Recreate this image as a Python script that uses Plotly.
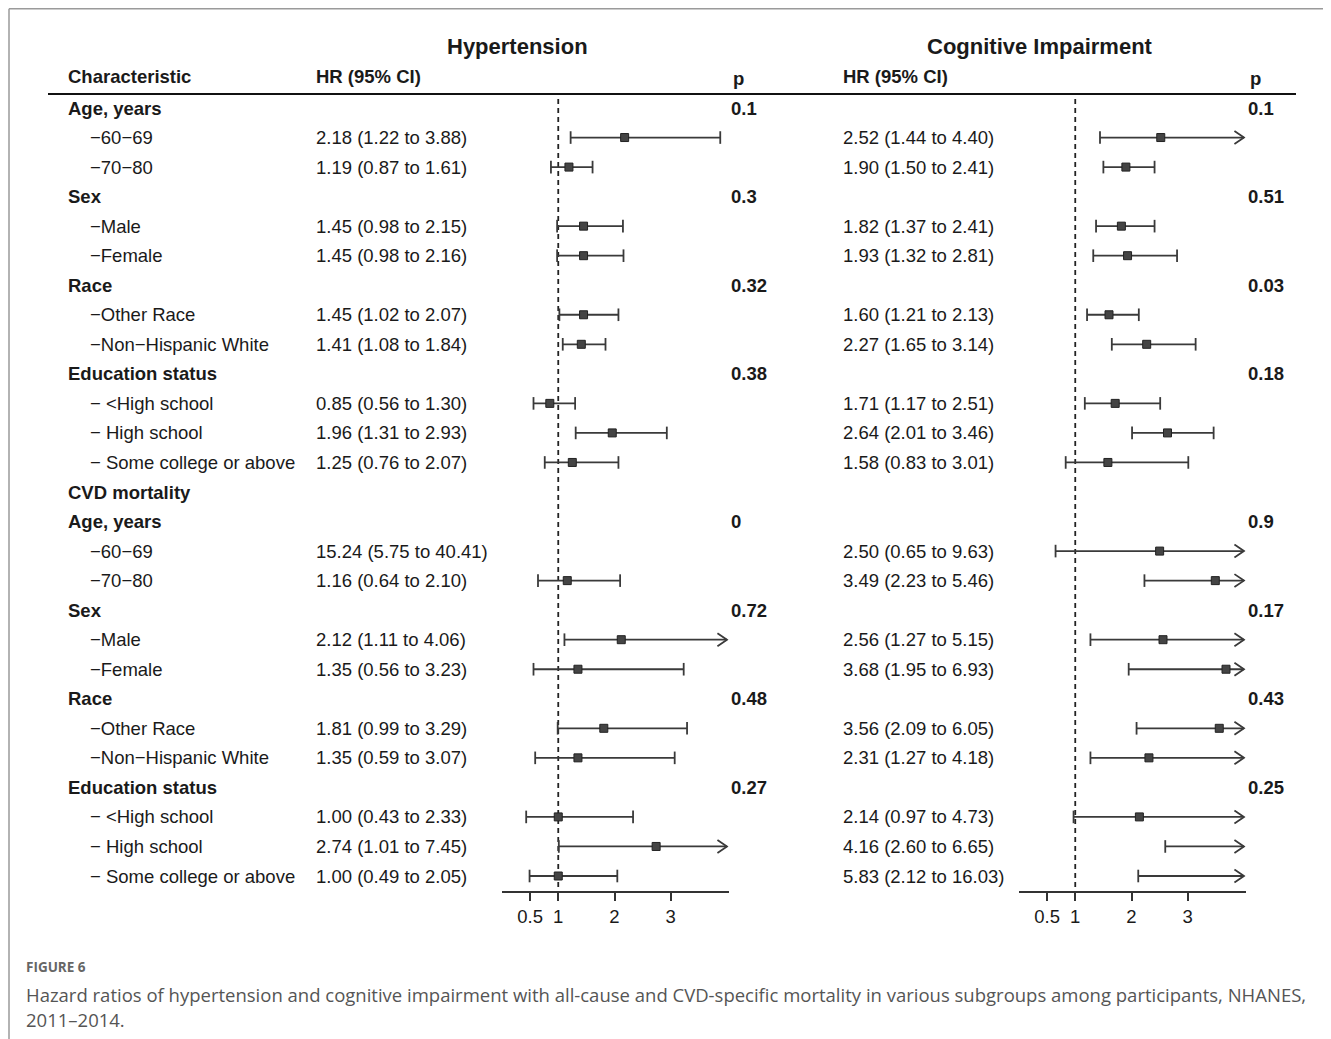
import plotly.graph_objects as go

# ---------------- data ----------------
row_labels = [
    "Age, years", "−60−69", "−70−80",
    "Sex", "−Male", "−Female",
    "Race", "−Other Race", "−Non−Hispanic White",
    "Education status", "− <High school", "− High school", "− Some college or above",
    "CVD mortality",
    "Age, years", "−60−69", "−70−80",
    "Sex", "−Male", "−Female",
    "Race", "−Other Race", "−Non−Hispanic White",
    "Education status", "− <High school", "− High school", "− Some college or above",
]
is_header = [1, 0, 0, 1, 0, 0, 1, 0, 0, 1, 0, 0, 0, 1,
             1, 0, 0, 1, 0, 0, 1, 0, 0, 1, 0, 0, 0]

# Hypertension (None = header row)
htn_hr = [None, 2.18, 1.19, None, 1.45, 1.45, None, 1.45, 1.41, None, 0.85, 1.96, 1.25, None,
          None, 15.24, 1.16, None, 2.12, 1.35, None, 1.81, 1.35, None, 1.00, 2.74, 1.00]
htn_lo = [None, 1.22, 0.87, None, 0.98, 0.98, None, 1.02, 1.08, None, 0.56, 1.31, 0.76, None,
          None, 5.75, 0.64, None, 1.11, 0.56, None, 0.99, 0.59, None, 0.43, 1.01, 0.49]
htn_hi = [None, 3.88, 1.61, None, 2.15, 2.16, None, 2.07, 1.84, None, 1.30, 2.93, 2.07, None,
          None, 40.41, 2.10, None, 4.06, 3.23, None, 3.29, 3.07, None, 2.33, 7.45, 2.05]
htn_p = ["0.1", "", "", "0.3", "", "", "0.32", "", "", "0.38", "", "", "", "",
         "0", "", "", "0.72", "", "", "0.48", "", "", "0.27", "", "", ""]

# Cognitive impairment
cog_hr = [None, 2.52, 1.90, None, 1.82, 1.93, None, 1.60, 2.27, None, 1.71, 2.64, 1.58, None,
          None, 2.50, 3.49, None, 2.56, 3.68, None, 3.56, 2.31, None, 2.14, 4.16, 5.83]
cog_lo = [None, 1.44, 1.50, None, 1.37, 1.32, None, 1.21, 1.65, None, 1.17, 2.01, 0.83, None,
          None, 0.65, 2.23, None, 1.27, 1.95, None, 2.09, 1.27, None, 0.97, 2.60, 2.12]
cog_hi = [None, 4.40, 2.41, None, 2.41, 2.81, None, 2.13, 3.14, None, 2.51, 3.46, 3.01, None,
          None, 9.63, 5.46, None, 5.15, 6.93, None, 6.05, 4.18, None, 4.73, 6.65, 16.03]
cog_p = ["0.1", "", "", "0.51", "", "", "0.03", "", "", "0.18", "", "", "", "",
         "0.9", "", "", "0.17", "", "", "0.43", "", "", "0.25", "", "", ""]

panel_titles = ["Hypertension", "Cognitive Impairment"]
tick_vals = [0.5, 1, 2, 3]
tick_text = ["0.5", "1", "2", "3"]
x_clip = 4.0

caption_label = "FIGURE 6"
caption_lines = [
    "Hazard ratios of hypertension and cognitive impairment with all-cause and CVD-specific "
    "mortality in various subgroups among participants, NHANES,",
    "2011–2014.",
]

# ---------------- layout geometry (screen px -> figure px) ----------------
OFF = 8                      # page body margin
SW, SH = 1331, 1039
W, H = SW - OFF, SH - OFF


def fx(px):
    return px - OFF


def fy(py):
    return py - OFF


ROW0_PX, ROW_STEP = 108.0, (876.0 - 108.0) / 26.0
AXIS_PX = 891.0


def row_of(py):
    return (py - ROW0_PX) / ROW_STEP


def pfx(px):
    return fx(px) / W


def pfy(py):
    return 1 - fy(py) / H


FONT = "Liberation Sans, Arial, Helvetica, sans-serif"
TXT = "#1a1a1a"
INK = "#3a3a3a"
FS = 18.5
PAD = 2

x_max = 4.03
scale = 56.25
panels = [
    dict(x0=502.0, hr=htn_hr, lo=htn_lo, hi=htn_hi, p=htn_p, xa="x", hr_x=316, p_x=731,
         title_x=517),
    dict(x0=1019.0, hr=cog_hr, lo=cog_lo, hi=cog_hi, p=cog_p, xa="x2", hr_x=843, p_x=1248,
         title_x=1040),
]

fig = go.Figure()
ann = []


def tx(x, y, text, size=FS, anchor="left", color=TXT, family=FONT):
    ann.append(dict(x=fx(x) - (PAD if anchor == "left" else 0), y=y, xref="x3", yref="y",
                    xanchor=anchor, yanchor="middle", showarrow=False, text=text,
                    font=dict(family=family, size=size, color=color)))


for pi, P in enumerate(panels):
    xa = P["xa"]
    # reference dashed line at HR = 1
    fig.add_trace(go.Scatter(x=[1, 1], y=[row_of(99), row_of(AXIS_PX)], xaxis=xa, yaxis="y",
                             mode="lines", line=dict(color="#222", width=1.8, dash="5px,4px"),
                             hoverinfo="skip", showlegend=False))
    lx, ly, cx, cy, mx, my, ax_, ay_ = [], [], [], [], [], [], [], []
    for i, (hr, lo, hi) in enumerate(zip(P["hr"], P["lo"], P["hi"])):
        if hr is None or lo >= x_clip:
            continue
        a = max(lo, 0)
        b = min(hi, x_clip)
        lx += [a, b, None]
        ly += [i, i, None]
        cx.append(a); cy.append(i)
        if hi <= x_clip:
            cx.append(hi); cy.append(i)
        else:
            ax_ += [x_clip - 0.17, x_clip, x_clip - 0.17, None]
            ay_ += [i - 0.22, i, i + 0.22, None]
        if hr <= x_clip:
            mx.append(hr); my.append(i)
    fig.add_trace(go.Scatter(x=lx, y=ly, xaxis=xa, yaxis="y", mode="lines",
                             line=dict(color=INK, width=1.8), hoverinfo="skip", showlegend=False))
    fig.add_trace(go.Scatter(x=ax_, y=ay_, xaxis=xa, yaxis="y", mode="lines",
                             line=dict(color=INK, width=1.8), hoverinfo="skip", showlegend=False))
    fig.add_trace(go.Scatter(x=cx, y=cy, xaxis=xa, yaxis="y", mode="markers",
                             marker=dict(symbol="line-ns", size=9,
                                         line=dict(color=INK, width=1.8)),
                             cliponaxis=False, hoverinfo="skip", showlegend=False))
    fig.add_trace(go.Scatter(x=mx, y=my, xaxis=xa, yaxis="y", mode="markers",
                             marker=dict(symbol="square", size=8, color="#444",
                                         line=dict(color="#222", width=1)),
                             cliponaxis=False, hoverinfo="skip", showlegend=False))

    # table text
    for i, (hr, lo, hi, p) in enumerate(zip(P["hr"], P["lo"], P["hi"], P["p"])):
        if hr is not None:
            tx(P["hr_x"], i, f"{hr:.2f} ({lo:.2f} to {hi:.2f})")
        if p:
            tx(P["p_x"], i, f"<b>{p}</b>")
    tx(P["hr_x"], row_of(76), "<b>HR (95% CI)</b>")
    tx(P["p_x"] + 2, row_of(78), "<b>p</b>")
    tx(P["title_x"], row_of(46), f"<b>{panel_titles[pi]}</b>", size=22, anchor="center")

# row labels
tx(68, row_of(76), "<b>Characteristic</b>")
for i, (lab, hd) in enumerate(zip(row_labels, is_header)):
    tx(68 if hd else 90, i, f"<b>{lab}</b>" if hd else lab)

# caption
CAP_FONT = "Open Sans, Lato, sans-serif"
ann.append(dict(x=pfx(26 - PAD), y=pfy(967), xref="paper", yref="paper", xanchor="left",
                yanchor="middle", showarrow=False, text=f"<b>{caption_label}</b>",
                font=dict(family=CAP_FONT, size=13.5, color="#666")))
for k, line in enumerate(caption_lines):
    ann.append(dict(x=pfx(26 - PAD), y=pfy(994 + 25 * k), xref="paper", yref="paper",
                    xanchor="left", yanchor="middle", showarrow=False, text=line,
                    font=dict(family=CAP_FONT, size=18.5, color="#555")))

shapes = [
    # header rule
    dict(type="line", xref="x3", yref="y", x0=fx(48), x1=fx(1296), y0=row_of(94),
         y1=row_of(94), line=dict(color="#111", width=2)),
    # outer border (top, left)
    dict(type="line", xref="paper", yref="paper", x0=pfx(9), x1=1.01, y0=pfy(8.75),
         y1=pfy(8.75), line=dict(color="#9a9a9a", width=1.5)),
    dict(type="line", xref="paper", yref="paper", x0=pfx(9), x1=pfx(9), y0=pfy(8.75), y1=-0.01,
         line=dict(color="#9a9a9a", width=1.5)),
]

xa_common = dict(range=[0, x_max], anchor="y", showline=True, linecolor="#333", linewidth=1.5,
                 ticks="outside", ticklen=8, tickwidth=1.5, tickcolor="#333",
                 tickvals=tick_vals, ticktext=tick_text, showgrid=False, zeroline=False,
                 tickfont=dict(family=FONT, size=FS, color=TXT), fixedrange=True)

fig.update_layout(
    width=W, height=H, margin=dict(l=0, r=0, t=0, b=0),
    paper_bgcolor="white", plot_bgcolor="rgba(0,0,0,0)",
    xaxis=dict(domain=[pfx(502), pfx(502 + x_max * scale)], **xa_common),
    xaxis2=dict(domain=[pfx(1019), pfx(1019 + x_max * scale)], **xa_common),
    xaxis3=dict(domain=[0, 1], range=[0, W], anchor="y", visible=False, fixedrange=True),
    yaxis=dict(domain=[1 - fy(AXIS_PX) / H, 1], range=[row_of(AXIS_PX), row_of(OFF)],
               visible=False, fixedrange=True),
    annotations=ann, shapes=shapes, showlegend=False,
)

fig.write_html("out.html", config={"displayModeBar": False})
